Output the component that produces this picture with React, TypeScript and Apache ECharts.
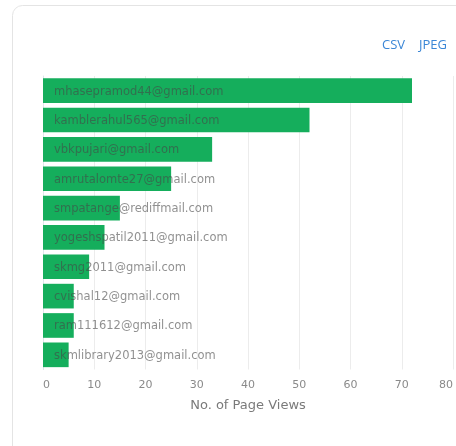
import React, { useEffect, useRef } from "react";
import * as echarts from "echarts";

const users = [
  "mhasepramod44@gmail.com",
  "kamblerahul565@gmail.com",
  "vbkpujari@gmail.com",
  "amrutalomte27@gmail.com",
  "smpatange@rediffmail.com",
  "yogeshspatil2011@gmail.com",
  "skmg2011@gmail.com",
  "cvishal12@gmail.com",
  "ram111612@gmail.com",
  "skmlibrary2013@gmail.com",
];
const pageViews = [72, 52, 33, 25, 15, 12, 9, 6, 6, 5];
const axisMax = 80;
const axisStep = 10;
const axisTitle = "No. of Page Views";
const exportLinks = ["CSV", "JPEG"];

export default function App() {
  const ref = useRef<HTMLDivElement>(null);
  useEffect(() => {
    if (!ref.current) return;
    const chart = echarts.init(ref.current, null, { renderer: "svg" });
    chart.setOption({
      animation: false,
      textStyle: { fontFamily: "DejaVu Sans" },
      graphic: [
        {
          type: "rect",
          shape: { x: 12.5, y: 5.5, width: 470, height: 470, r: 10 },
          style: { fill: "#ffffff", stroke: "#e4e4e4", lineWidth: 1 },
          z: -10,
        },
        {
          type: "text",
          x: 382,
          y: 44,
          style: {
            text: exportLinks[0],
            fill: "#3a86d6",
            font: "13px 'Open Sans'",
            verticalAlign: "middle",
          },
        },
        {
          type: "text",
          x: 419,
          y: 44,
          style: {
            text: exportLinks[1],
            fill: "#3a86d6",
            font: "13px 'Open Sans'",
            verticalAlign: "middle",
          },
        },
      ],
      grid: { left: 43, top: 76, width: 413, height: 293.5, containLabel: false },
      xAxis: {
        type: "value",
        min: 0,
        max: axisMax,
        interval: axisStep,
        axisLine: { show: false },
        axisTick: { show: false },
        splitLine: { show: true, lineStyle: { color: "#ececec", width: 1 } },
        axisLabel: {
          color: "#8a8a8a",
          fontSize: 11,
          margin: 9,
          fontFamily: "DejaVu Sans",
          alignMinLabel: "left",
          alignMaxLabel: "right",
        },
        name: axisTitle,
        nameLocation: "middle",
        nameGap: 28,
        nameTextStyle: { color: "#7a7a7a", fontSize: 13, fontFamily: "DejaVu Sans" },
      },
      yAxis: {
        type: "category",
        data: users,
        inverse: true,
        axisLine: { show: true, lineStyle: { color: "#dfe6ec" } },
        axisTick: { show: false },
        axisLabel: { show: false },
        splitLine: { show: false },
      },
      series: [
        {
          type: "bar",
          data: pageViews,
          barCategoryGap: "16%",
          itemStyle: { color: "#15ae5c" },
          label: {
            show: true,
            position: "insideLeft",
            distance: 11,
            formatter: (p: any) => p.name,
            color: "rgba(70,70,70,0.6)",
            fontSize: 11.5,
            fontFamily: "DejaVu Sans",
          },
        },
      ],
    });
    return () => chart.dispose();
  }, []);
  return (
    <div
      ref={ref}
      style={{ position: "fixed", left: 0, top: 0, width: 456, height: 446 }}
    />
  );
}
